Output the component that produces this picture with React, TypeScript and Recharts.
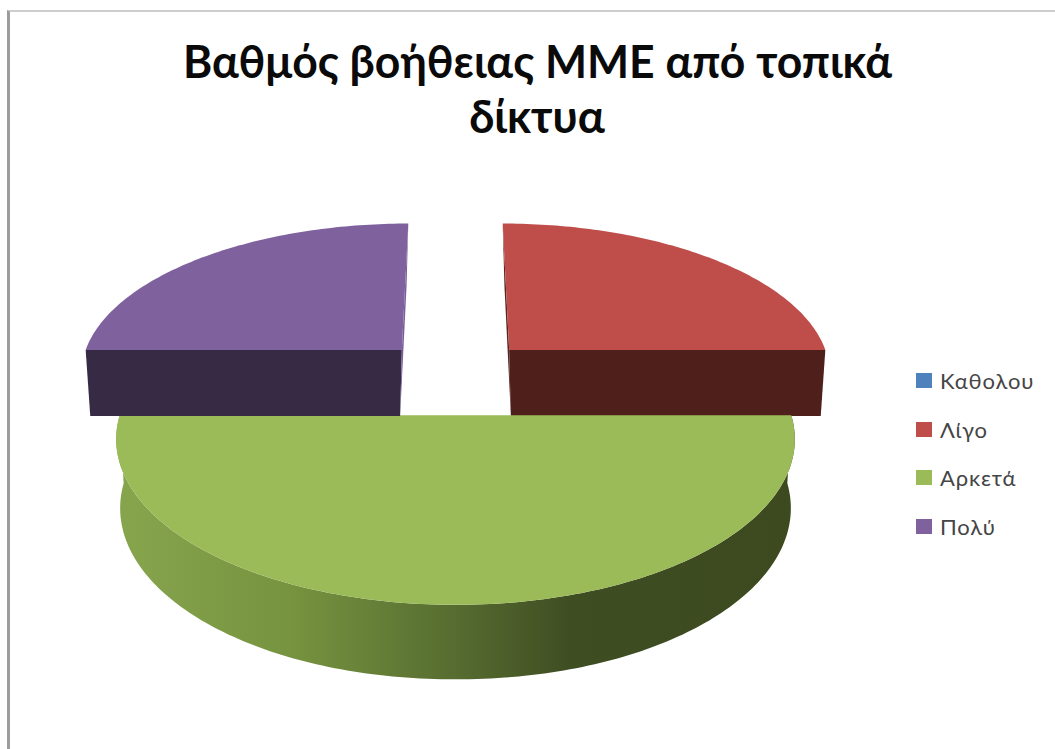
import React from 'react';
import { PieChart, Pie, Cell, Legend } from 'recharts';

const categories = ['Καθολου', 'Λίγο', 'Αρκετά', 'Πολύ'];
const shares = [0, 25, 50, 25];
const titleLines = ['Βαθμός βοήθειας ΜΜΕ από τοπικά', 'δίκτυα'];

const faceColors = ['#4F81BD', '#BF4E4B', '#9BBA58', '#7F619E'];
const frontWallColors = ['#2A4562', '#4F1F1C', '#3F4D22', '#372A45'];
const innerWallColors = ['#2A4562', '#5A2421', '#3F4D22', '#7A5D99'];

const chartData = categories.map((name, i) => ({ name, value: shares[i] }));

// Oblique view of the pie plane
const EXPLODE = 0.25;
const SIDE_PULL = 0.96;
const TILT = 0.14;
const TOP_SQUASH = 0.466;
const BASE_SQUASH = 0.4815;
const BASE_DROP = 66.8;
const RAD = Math.PI / 180;

const FONT = 'Lato, "Open Sans", sans-serif';

type Pt = { x: number; y: number };

const topPoint = (cx: number, cy: number, r: number, u: number, v: number): Pt => {
  const w = 1 + TILT * v;
  return { x: cx + (r * u) / w, y: cy - (r * TOP_SQUASH * v) / w };
};

const basePoint = (cx: number, cy: number, r: number, u: number, v: number): Pt => {
  const w = 1 + TILT * v;
  const dx = (r * u) / w;
  const nudge = 2.8 * Math.max(-1, Math.min(1, dx / 50));
  return { x: cx + dx * 0.98 + nudge, y: cy + BASE_DROP - (r * BASE_SQUASH * v) / w };
};

const quad = (pts: Pt[]) =>
  pts.map((p, i) => `${i === 0 ? 'M' : 'L'}${p.x.toFixed(2)},${p.y.toFixed(2)}`).join(' ') + ' Z';

// Draws one slice as a raised wedge from the angles the Pie computed
const Wedge3D = (props: any) => {
  const { cx, cy, outerRadius: r, startAngle, endAngle, midAngle, index } = props;
  if (Math.abs(startAngle - endAngle) < 0.01) return null;

  const ou = EXPLODE * SIDE_PULL * Math.cos(midAngle * RAD);
  const ov = EXPLODE * Math.sin(midAngle * RAD);
  const rim = (deg: number) => [ou + Math.cos(deg * RAD), ov + Math.sin(deg * RAD)] as const;

  const steps = Math.ceil(Math.abs(endAngle - startAngle));
  const angles = Array.from({ length: steps + 1 }, (_, i) => startAngle + ((endAngle - startAngle) * i) / steps);

  const hub = topPoint(cx, cy, r, ou, ov);
  const hubBase = basePoint(cx, cy, r, ou, ov);
  const rimTop = angles.map((a) => topPoint(cx, cy, r, ...rim(a)));
  const rimBase = angles.map((a) => basePoint(cx, cy, r, ...rim(a)));

  // Cut faces: only the ones turned towards the viewer
  const cutFace = (edge: number, normal: number, i: number) => {
    const ny = Math.sin(normal * RAD);
    if (ny > 0.01) return null;
    const fill = ny < -0.5 ? frontWallColors[index] : innerWallColors[index];
    const [u, v] = rim(edge);
    const d = quad([hub, topPoint(cx, cy, r, u, v), basePoint(cx, cy, r, u, v), hubBase]);
    return <path key={i} d={d} fill={fill} />;
  };

  // Outer wall, one strip per degree, for the part of the rim facing front
  const wall: string[] = [];
  for (let i = 0; i < steps; i++) {
    if (Math.sin(((angles[i] + angles[i + 1]) / 2) * RAD) < 0) {
      wall.push(quad([rimTop[i], rimTop[i + 1], rimBase[i + 1], rimBase[i]]));
    }
  }

  const gradId = `wall-shade-${index}`;
  const top = `M${hub.x},${hub.y} ` + rimTop.map((p) => `L${p.x.toFixed(2)},${p.y.toFixed(2)}`).join(' ') + ' Z';

  return (
    <g>
      <defs>
        <linearGradient id={gradId} gradientUnits="userSpaceOnUse" x1={cx - r} y1={0} x2={cx + r} y2={0}>
          <stop offset="0%" stopColor="#85A44C" />
          <stop offset="25%" stopColor="#76933F" />
          <stop offset="50%" stopColor="#566C30" />
          <stop offset="68%" stopColor="#3F4D22" />
          <stop offset="100%" stopColor="#3D4A20" />
        </linearGradient>
      </defs>
      {cutFace(startAngle, startAngle + 90, 0)}
      {cutFace(endAngle, endAngle - 90, 1)}
      {wall.length > 0 && <path d={wall.join(' ')} fill={`url(#${gradId})`} />}
      <path d={top} fill={faceColors[index]} />
    </g>
  );
};

const LegendList = ({ payload }: any) => (
  <div>
    {(payload || []).map((entry: any) => (
      <div
        key={entry.value}
        style={{ display: 'flex', alignItems: 'center', height: 48.7, fontFamily: FONT, fontSize: 22, letterSpacing: 0.9, color: '#454545' }}
      >
        <span style={{ width: 16, height: 15, marginRight: 8, background: entry.color, display: 'inline-block' }} />
        {entry.value}
      </div>
    ))}
  </div>
);

export default function App() {
  return (
    <div style={{ position: 'absolute', left: 0, top: 0, width: 1055, height: 749, overflow: 'hidden', background: '#fff' }}>
      <div style={{ position: 'absolute', left: 7, top: 10, right: 0, bottom: 0, borderTop: '2px solid #cdcdcd', borderLeft: '3px solid #9c9c9c' }} />
      <PieChart width={1055} height={749} margin={{ top: 0, right: 0, bottom: 0, left: 0 }} style={{ position: 'absolute', left: 0, top: 0 }}>
        <text x={537.5} y={78} textAnchor="middle" fontFamily={FONT} fontWeight={700} fontSize={45} textLength={709} lengthAdjust="spacingAndGlyphs" fill="#0a0a0a">
          {titleLines[0]}
        </text>
        <text x={537} y={133} textAnchor="middle" fontFamily={FONT} fontWeight={700} fontSize={45} fill="#0a0a0a">
          {titleLines[1]}
        </text>
        <Pie
          data={chartData}
          dataKey="value"
          nameKey="name"
          cx={455.5}
          cy={376.1}
          outerRadius={324}
          startAngle={90}
          endAngle={-270}
          stroke="none"
          isAnimationActive={false}
          shape={Wedge3D}
        >
          {chartData.map((entry, i) => (
            <Cell key={entry.name} fill={faceColors[i]} />
          ))}
        </Pie>
        <Legend
          content={LegendList}
          itemSorter={null}
          layout="vertical"
          align="right"
          verticalAlign="top"
          wrapperStyle={{ left: 916, top: 356, width: 135 }}
        />
      </PieChart>
    </div>
  );
}
